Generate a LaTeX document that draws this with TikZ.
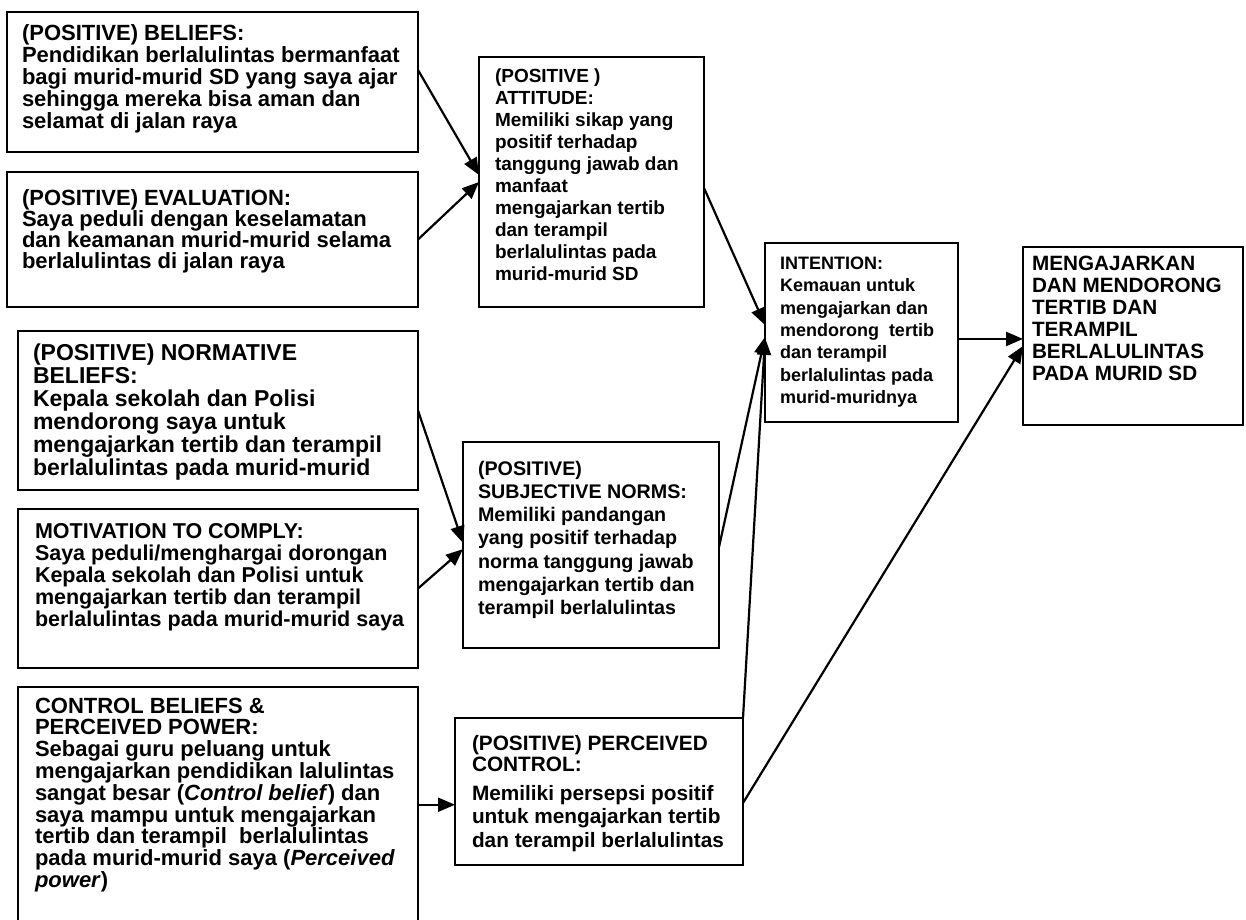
\documentclass[tikz,border=0pt]{standalone}
\usepackage{fontspec}
\setmainfont{Liberation Sans}
\usetikzlibrary{arrows.meta,calc}

% font size / line pitch for a text block
\newcommand\boxfont[2]{\bfseries\fontsize{#1}{#2}\selectfont}
% fixed height for the first line, so every block hangs from the same point
\newcommand\firstline{\rule{0pt}{18pt}}

\tikzset{
  frame/.style={draw=black, line width=2.8pt, rectangle, inner sep=0pt,
                outer sep=0pt, anchor=north west},
  blocktext/.style={anchor=north west, inner sep=0pt, outer sep=0pt, align=left},
  conn/.style={draw=black, line width=2.2pt,
               -{Triangle[length=17pt,width=14pt]}}
}

\begin{document}
\begin{tikzpicture}[x=1pt, y=-1pt]
\useasboundingbox (0,0) rectangle (1246,919);
\fill[white] (0,0) rectangle (1246,919);
\clip (0,0) rectangle (1246,919);

% ---- left column: beliefs and evaluations ----
\node[frame, minimum width=411pt, minimum height=140pt] (b1) at (7,12) {};
\node[blocktext, font=\boxfont{22}{22}] (b1t) at (22,22) {\firstline(POSITIVE) BELIEFS:\\
Pendidikan berlalulintas bermanfaat\\
bagi murid-murid SD yang saya ajar\\
sehingga mereka bisa aman dan\\
selamat di jalan raya};

\node[frame, minimum width=411pt, minimum height=135pt] (b2) at (7,172) {};
\node[blocktext, font=\boxfont{22}{21}] (b2t) at (22,187) {\firstline(POSITIVE) EVALUATION:\\
Saya peduli dengan keselamatan\\
dan keamanan murid-murid selama\\
berlalulintas di jalan raya};

\node[frame, minimum width=400pt, minimum height=159pt] (b3) at (18,331) {};
\node[blocktext, font=\boxfont{23}{23}] (b3t) at (33,342) {\firstline(POSITIVE) NORMATIVE\\
BELIEFS:\\
Kepala sekolah dan Polisi\\
mendorong saya untuk\\
mengajarkan tertib dan terampil\\
berlalulintas pada murid-murid};

\node[frame, minimum width=400pt, minimum height=159pt] (b4) at (18,509) {};
\node[blocktext, font=\boxfont{21.5}{22}] (b4t) at (35,520) {\firstline MOTIVATION TO COMPLY:\\
Saya peduli/menghargai dorongan\\
Kepala sekolah dan Polisi untuk\\
mengajarkan tertib dan terampil\\
berlalulintas pada murid-murid saya};

\node[frame, minimum width=400pt, minimum height=250pt] (b5) at (18,687) {};
\node[blocktext, font=\boxfont{22}{21.8}] (b5t) at (35,695) {\firstline CONTROL BELIEFS \&\\
PERCEIVED POWER:\\
Sebagai guru peluang untuk\\
mengajarkan pendidikan lalulintas\\
sangat besar (\textit{Control belief}) dan\\
saya mampu untuk mengajarkan\\
tertib dan terampil\ \ berlalulintas\\
pada murid-murid saya (\textit{Perceived}\\
\textit{power})};

% ---- middle column: attitude, norms, control ----
\node[frame, minimum width=225pt, minimum height=250pt] (att) at (479,57) {};
\node[blocktext, font=\boxfont{19}{22}] (attt) at (495,64) {\firstline(POSITIVE )\\
ATTITUDE:\\
Memiliki sikap yang\\
positif terhadap\\
tanggung jawab dan\\
manfaat\\
mengajarkan tertib\\
dan terampil\\
berlalulintas pada\\
murid-murid SD};

\node[frame, minimum width=256pt, minimum height=206pt] (sn) at (463,442) {};
\node[blocktext, font=\boxfont{19.7}{23.3}] (snt) at (478,457) {\firstline(POSITIVE)\\
SUBJECTIVE NORMS:\\
Memiliki pandangan\\
yang positif terhadap\\
norma tanggung jawab\\
mengajarkan tertib dan\\
terampil berlalulintas};

\node[frame, minimum width=288pt, minimum height=147pt] (pc) at (455,718) {};
\node[blocktext, font=\boxfont{20.8}{23.5}] (pct) at (472,732) {\firstline(POSITIVE) PERCEIVED\\[-2pt]
CONTROL:\\[5pt]
Memiliki persepsi positif\\
untuk mengajarkan tertib\\
dan terampil berlalulintas};

% ---- right: intention and behaviour ----
\node[frame, minimum width=193pt, minimum height=179pt] (int) at (765,243) {};
\node[blocktext, font=\boxfont{18}{22.3}] (intt) at (780,251.5) {\firstline INTENTION:\\
Kemauan untuk\\
mengajarkan dan\\
mendorong\ \ tertib\\
dan terampil\\
berlalulintas pada\\
murid-muridnya};

\node[frame, minimum width=220pt, minimum height=178pt] (out) at (1023,247) {};
\node[blocktext, font=\boxfont{20.7}{22}] (outt) at (1032,252.5) {\firstline MENGAJARKAN\\
DAN MENDORONG\\
TERTIB DAN\\
TERAMPIL\\
BERLALULINTAS\\
PADA MURID SD};

% ---- connectors ----
\draw[conn] ($(b1.north east)!0.414!(b1.south east)$) -- ($(att.north west)!0.472!(att.south west)$);
\draw[conn] (b2.east) -- (att.west);
\draw[conn] (b3.east) -- ($(sn.north west)!0.49!(sn.south west)$);
\draw[conn] (b4.east) -- ($(sn.north west)!0.52!(sn.south west)$);
\coordinate (pcin) at ($(pc.north west)!0.59!(pc.south west)$);
\draw[conn] (b5.east |- pcin) -- (pcin);

\draw[conn] ($(att.north east)!0.524!(att.south east)$) -- ($(int.north west)!0.458!(int.south west)$);
\draw[conn] ($(sn.north east)!0.51!(sn.south east)$) -- ($(int.north west)!0.525!(int.south west)$);
\draw[conn] (pc.north east) -- ($(int.north west)!0.53!(int.south west)$);

\coordinate (intout) at ($(int.north east)!0.536!(int.south east)$);
\draw[conn] (intout) -- (out.west |- intout);
\draw[conn] ($(pc.north east)!0.578!(pc.south east)$) -- ($(out.north west)!0.556!(out.south west)$);
\end{tikzpicture}
\end{document}
